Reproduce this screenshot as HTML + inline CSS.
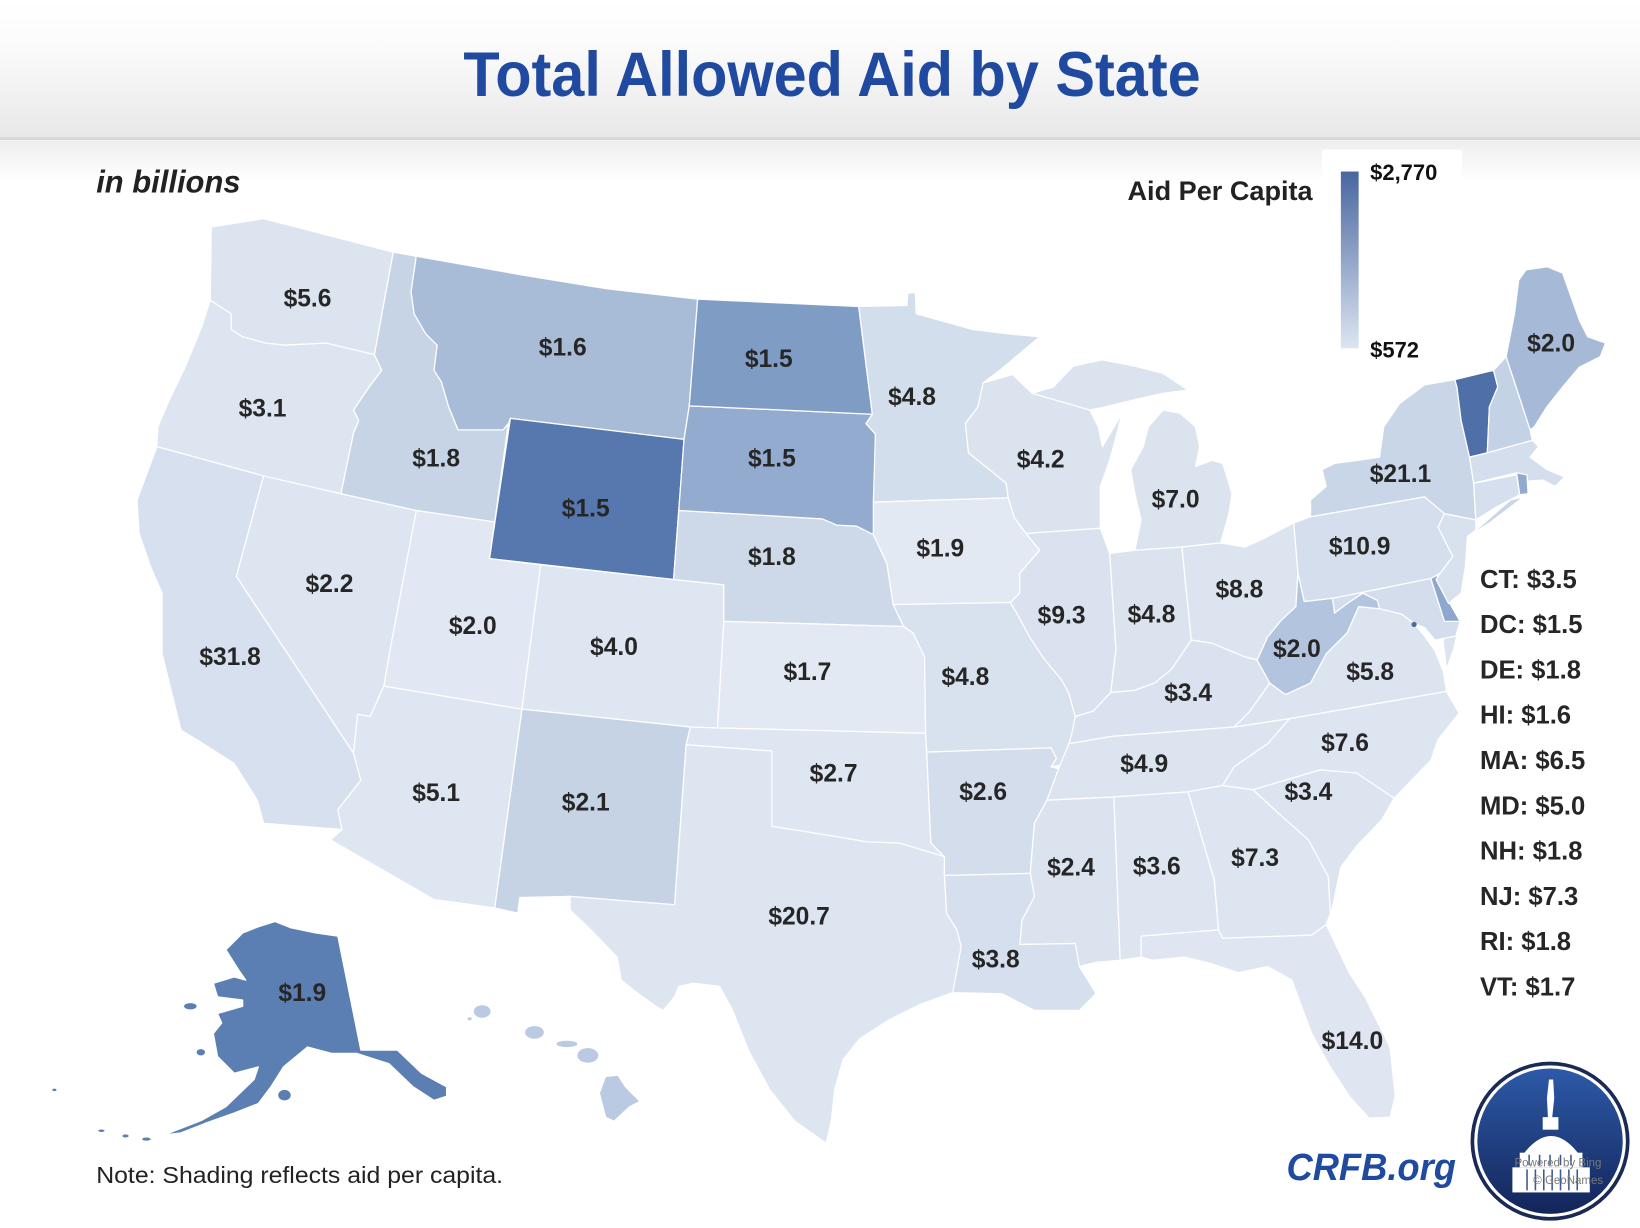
<!DOCTYPE html>
<html><head><meta charset="utf-8"><style>
html,body{margin:0;padding:0;background:#fff;}
svg{display:block;}
text{font-family:"Liberation Sans",Arial,sans-serif;}
</style></head><body>
<svg width="1640" height="1228" viewBox="0 0 1568 1174" preserveAspectRatio="none" xmlns="http://www.w3.org/2000/svg">
<defs>
<linearGradient id="hdr" x1="0" y1="0" x2="0" y2="1"><stop offset="0" stop-color="#ffffff"/><stop offset="0.35" stop-color="#fbfbfb"/><stop offset="1" stop-color="#e8e8e8"/></linearGradient>
<linearGradient id="sh" x1="0" y1="0" x2="0" y2="1"><stop offset="0" stop-color="#eeeeee"/><stop offset="1" stop-color="#ffffff"/></linearGradient>
<linearGradient id="leg" x1="0" y1="0" x2="0" y2="1"><stop offset="0" stop-color="#4866a0"/><stop offset="1" stop-color="#dde5f1"/></linearGradient>
<linearGradient id="logo" x1="0" y1="0" x2="0" y2="1"><stop offset="0" stop-color="#2d5aa8"/><stop offset="1" stop-color="#13255a"/></linearGradient>
</defs>
<rect x="0" y="0" width="1568" height="1174" fill="#fff"/>
<rect x="0" y="0" width="1568" height="131" fill="url(#hdr)"/>
<rect x="0" y="131" width="1568" height="3" fill="#d8d8d8"/>
<rect x="0" y="134" width="1568" height="40" fill="url(#sh)"/>
<text x="443" y="92" font-size="60" font-weight="bold" fill="#1f4aa0" textLength="705" lengthAdjust="spacingAndGlyphs">Total Allowed Aid by State</text>
<text x="92" y="184" font-size="30" font-weight="bold" font-style="italic" fill="#222" textLength="138" lengthAdjust="spacingAndGlyphs">in billions</text>

<rect x="1264" y="143" width="134" height="197" fill="#fff"/>
<rect x="1282" y="164" width="17" height="169" fill="url(#leg)"/>
<text x="1078" y="191" font-size="26" font-weight="bold" fill="#222" textLength="177" lengthAdjust="spacingAndGlyphs">Aid Per Capita</text>
<text x="1310" y="172" font-size="21" font-weight="bold" fill="#111">$2,770</text>
<text x="1310" y="342" font-size="21" font-weight="bold" fill="#111">$572</text>

<g stroke="#ffffff" stroke-width="1.2" stroke-linejoin="round">
<polygon fill="#dce4f0" points="202,217 252,209 376,241 358,339 312,328 272,330 254,328 232,322 221,315 221,300 201,287"/>
<polygon fill="#dde5f1" points="201,287 221,300 221,315 232,322 254,328 272,330 312,328 358,339 365,354 353,370 338,392 343,402 338,414 326,472 252,455 150,427 151,408 162,382 177,351 193,312"/>
<polygon fill="#d6e0ee" points="150,427 252,455 226,551 338,720 345,746 323,774 327,793 252,787 246,765 224,730 188,707 173,698 155,625 155,567 144,542 133,510 131,478"/>
<polygon fill="#dde5f0" points="252,455 326,472 398,488 373,621 367,656 354,685 342,683 338,720 226,551"/>
<polygon fill="#c6d4e6" points="376,241 398,245 393,279 396,300 407,319 418,330 415,354 422,365 429,389 438,411 481,411 486,405 473,499 398,488 326,472 338,414 343,402 338,392 353,370 365,354 358,339"/>
<polygon fill="#a8bbd7" points="398,245 500,263 580,276 667,286 659,388 654,420 488,400 486,405 481,411 438,411 429,389 422,365 415,354 418,330 407,319 396,300 393,279"/>
<polygon fill="#5678ae" points="488,400 654,420 644,554 468,534"/>
<polygon fill="#e1e8f3" points="398,488 473,499 468,534 517,540 499,678 367,656 373,621"/>
<polygon fill="#dee6f1" points="517,540 644,554 692,559 692,594 686,696 660,695 499,678"/>
<polygon fill="#cdd8e9" points="649,488 786,496 800,502 819,503 835,511 848,539 854,578 864,599 692,594 692,559 644,554"/>
<polygon fill="#93abcf" points="659,388 834,396 828,405 837,415 837,478 835,511 819,503 800,502 786,496 649,488 654,420"/>
<polygon fill="#7f9cc5" points="667,286 821,293 834,396 659,388"/>
<polygon fill="#e3e9f3" points="692,594 864,599 873,605 884,628 885,701 686,696"/>
<polygon fill="#dee6f1" points="660,695 686,696 885,701 886,719 890,806 903,819 880,812 860,806 830,805 800,800 770,795 738,790 738,718 656,712"/>
<polygon fill="#c6d3e5" points="499,678 660,695 656,712 645,865 545,857 497,858 495,873 473,868"/>
<polygon fill="#dee6f1" points="367,656 499,678 473,868 415,860 316,803 327,793 323,774 345,746 338,720 342,683 354,685"/>
<polygon fill="#dde5f0" points="656,712 738,718 738,790 770,795 800,800 830,805 860,806 880,812 903,819 903,837 905,873 915,889 919,905 911,949 880,960 850,975 822,993 806,1013 798,1042 795,1070 790,1093 760,1072 736,1042 716,1005 700,965 688,943 663,940 649,943 645,953 634,966 627,962 605,946 594,937 590,915 565,889 545,870 545,857 645,865"/>
<polygon fill="#d3deec" points="821,293 867,292 868,280 875,280 876,300 930,315 962,319 994,322 975,338 956,354 940,366 935,389 923,405 926,433 946,449 962,462 964,476 835,480 837,415 828,405 834,396"/>
<polygon fill="#e3e9f3" points="835,480 964,476 970,495 981,510 994,526 975,548 975,567 966,576 854,578 848,539 835,511"/>
<polygon fill="#d8e1ee" points="854,578 966,576 972,586 985,610 999,631 1015,650 1022,663 1028,685 1030,712 1025,730 1005,733 1010,725 1005,715 886,719 885,701 884,628 873,605 864,599"/>
<polygon fill="#dbe3ef" points="940,366 968,358 987,376 1042,392 1050,408 1054,427 1073,395 1065,425 1061,440 1052,465 1052,505 981,510 970,495 964,476 962,462 946,449 926,433 923,405 935,389"/>
<polygon fill="#dae2ef" points="981,510 1052,505 1061,529 1067,621 1062,662 1045,680 1028,685 1022,663 1015,650 999,631 985,610 972,586 966,576 975,567 975,548 994,526"/>
<polygon fill="#dbe3ef" points="1061,529 1085,526 1130,523 1139,612 1120,640 1104,653 1085,660 1062,662 1067,621"/>
<polygon fill="#dbe3ef" points="1085,526 1091,497 1085,472 1081,449 1093,427 1098,408 1112,392 1128,395 1143,408 1147,427 1143,446 1159,440 1169,443 1178,472 1175,491 1167,519 1130,523"/>
<polygon fill="#dbe3ef" points="987,376 1007,370 1026,350 1054,344 1085,350 1112,357 1136,373 1112,376 1085,382 1057,389 1042,392"/>
<polygon fill="#dce4f0" points="1130,523 1167,519 1190,523 1206,516 1229,504 1237,500 1241,548 1239,580 1225,593 1212,609 1202,631 1190,628 1159,615 1139,612"/>
<polygon fill="#dae2ef" points="1028,685 1045,680 1062,662 1085,660 1104,653 1120,640 1139,612 1159,615 1190,628 1202,631 1214,653 1195,680 1180,695 1063,704 1022,711 1025,700"/>
<polygon fill="#dce4f0" points="1022,711 1063,704 1180,695 1233,687 1212,711 1180,733 1169,751 1136,757 1065,762 1001,765 1012,735"/>
<polygon fill="#d3ddec" points="886,719 1005,715 1010,725 1005,733 1012,735 1001,765 989,787 985,835 903,837 903,819 890,806"/>
<polygon fill="#dbe3ef" points="1001,765 1065,762 1071,918 1048,920 1032,924 1028,902 975,903 977,880 989,857 985,835 989,787"/>
<polygon fill="#d5dfed" points="903,837 985,835 989,857 977,880 975,903 1028,902 1032,924 1048,950 1032,966 989,966 958,950 911,949 919,905 915,889 905,873"/>
<polygon fill="#dde5f0" points="1065,762 1136,757 1161,841 1165,889 1091,895 1091,915 1071,918"/>
<polygon fill="#dde5f1" points="1136,757 1169,751 1198,755 1223,778 1251,803 1270,838 1272,873 1268,884 1254,894 1169,897 1165,889 1161,841"/>
<polygon fill="#dfe6f1" points="1091,895 1165,889 1169,897 1254,894 1268,884 1290,930 1305,953 1329,1001 1334,1048 1329,1068 1309,1069 1290,1048 1270,1017 1254,988 1247,969 1235,937 1212,924 1184,930 1157,921 1133,915 1102,918 1091,915"/>
<polygon fill="#dce4f0" points="1198,755 1262,736 1297,739 1333,763 1321,784 1297,809 1282,829 1274,867 1272,873 1270,838 1251,803 1223,778"/>
<polygon fill="#dde5f1" points="1233,687 1383,661 1395,682 1375,707 1368,727 1333,763 1297,739 1262,736 1198,755 1169,751 1180,733 1212,711"/>
<polygon fill="#dce4f0" points="1180,695 1195,680 1214,653 1229,664 1253,653 1268,625 1288,605 1299,580 1319,582 1340,587 1352,596 1362,608 1372,622 1380,642 1383,661 1233,687"/>
<polygon fill="#dce4f0" points="1381,594 1396,594 1390,620 1383,640 1380,615"/>
<polygon fill="#b3c4de" points="1241,548 1247,575 1274,572 1276,586 1288,577 1303,567 1317,574 1319,582 1299,580 1288,605 1268,625 1253,653 1229,664 1214,653 1202,631 1212,609 1225,593 1239,580"/>
<polygon fill="#d3ddec" points="1274,572 1368,553 1381,594 1396,594 1392,608 1372,612 1362,600 1352,596 1340,587 1319,582 1317,574 1303,567 1288,577 1276,586"/>
<polygon fill="#8ea7ce" points="1368,553 1374,550 1380,566 1396,594 1381,594"/>
<polygon fill="#d4deec" points="1237,500 1253,494 1362,475 1381,491 1375,504 1389,532 1377,548 1368,553 1274,572 1247,575 1241,548"/>
<polygon fill="#d8e1ee" points="1381,491 1411,497 1411,507 1403,513 1401,542 1397,567 1385,577 1373,554 1377,548 1389,532 1375,504"/>
<polygon fill="#c9d6e8" points="1253,494 1253,478 1268,465 1264,449 1276,443 1299,440 1319,437 1323,408 1338,386 1362,368 1391,363 1393,370 1397,402 1405,437 1409,462 1411,497 1381,491 1362,475"/>
<polygon fill="#c9d6e8" points="1411,507 1444,478 1457,475 1424,500 1403,513"/>
<polygon fill="#4e6fa7" points="1391,363 1428,354 1432,370 1424,389 1422,433 1405,437 1397,402 1393,370"/>
<polygon fill="#c4d2e6" points="1428,354 1440,341 1463,411 1465,421 1422,433 1424,389 1432,370"/>
<polygon fill="#a6bad7" points="1440,341 1448,300 1452,268 1459,258 1479,255 1494,261 1510,306 1518,322 1535,328 1530,341 1510,351 1494,370 1479,389 1467,408 1463,411"/>
<polygon fill="#d4deec" points="1405,437 1422,433 1465,421 1471,427 1463,437 1479,449 1496,456 1487,465 1475,459 1459,460 1450,452 1409,462"/>
<polygon fill="#d6dfed" points="1409,462 1450,454 1453,473 1432,484 1411,497"/>
<polygon fill="#92aacf" points="1450,452 1460,454 1461,472 1453,473"/>
<polygon fill="#5b7fb3" points="216,908 232,892 247,886 263,881 278,887 302,892 323,895 345,1004 357,1004 380,1004 403,1026 427,1039 427,1048 415,1052 395,1039 372,1017 341,1007 317,1007 294,1001 271,1020 259,1039 247,1055 224,1064 196,1074 173,1083 157,1085 193,1071 216,1058 243,1032 247,1020 224,1026 208,1010 204,988 212,978 208,969 232,962 232,956 208,953 204,940 224,934 235,937 228,927"/>
<polygon fill="#b9cae2" points="579,1029 591,1028 598,1039 612,1053 602,1058 587,1072 579,1068 573,1045"/>
</g>
<circle cx="1352" cy="597" r="2.5" fill="#4a6aa2"/>
<g fill="#5b7fb3">
<ellipse cx="182" cy="962" rx="6" ry="3"/>
<ellipse cx="192" cy="1006" rx="4" ry="3"/>
<ellipse cx="272" cy="1047" rx="6" ry="5"/>
<ellipse cx="140" cy="1089" rx="4" ry="1.5"/>
<ellipse cx="120" cy="1086" rx="3" ry="1.5"/>
<ellipse cx="97" cy="1081" rx="3" ry="1.2"/>
<ellipse cx="52" cy="1042" rx="2" ry="1.2"/>
</g>
<g fill="#b9cae2">
<ellipse cx="461" cy="967" rx="8" ry="6"/>
<ellipse cx="449" cy="974" rx="2" ry="1.5"/>
<ellipse cx="511" cy="987" rx="9" ry="6"/>
<ellipse cx="542" cy="998" rx="10" ry="3"/>
<ellipse cx="562" cy="1009" rx="10" ry="7"/>
</g>

<g font-size="23.5" font-weight="bold" fill="#262626" text-anchor="middle">
<text x="294" y="293">$5.6</text>
<text x="251" y="398">$3.1</text>
<text x="220" y="636">$31.8</text>
<text x="315" y="566">$2.2</text>
<text x="417" y="446">$1.8</text>
<text x="538" y="340">$1.6</text>
<text x="560" y="494">$1.5</text>
<text x="452" y="606">$2.0</text>
<text x="587" y="626">$4.0</text>
<text x="417" y="766">$5.1</text>
<text x="560" y="775">$2.1</text>
<text x="735" y="351">$1.5</text>
<text x="738" y="446">$1.5</text>
<text x="738" y="540">$1.8</text>
<text x="772" y="650">$1.7</text>
<text x="797" y="747">$2.7</text>
<text x="764" y="884">$20.7</text>
<text x="872" y="387">$4.8</text>
<text x="899" y="532">$1.9</text>
<text x="923" y="655">$4.8</text>
<text x="940" y="765">$2.6</text>
<text x="952" y="925">$3.8</text>
<text x="995" y="447">$4.2</text>
<text x="1015" y="596">$9.3</text>
<text x="1124" y="485">$7.0</text>
<text x="1101" y="595">$4.8</text>
<text x="1185" y="571">$8.8</text>
<text x="1136" y="670">$3.4</text>
<text x="1094" y="738">$4.9</text>
<text x="1024" y="837">$2.4</text>
<text x="1106" y="836">$3.6</text>
<text x="1200" y="828">$7.3</text>
<text x="1293" y="1003">$14.0</text>
<text x="1251" y="765">$3.4</text>
<text x="1286" y="718">$7.6</text>
<text x="1310" y="650">$5.8</text>
<text x="1240" y="628">$2.0</text>
<text x="1300" y="530">$10.9</text>
<text x="1339" y="461">$21.1</text>
<text x="1483" y="336">$2.0</text>
<text x="289" y="957">$1.9</text>
</g>

<g font-size="24.5" font-weight="bold" fill="#262626">
<text x="1415" y="562">CT: $3.5</text>
<text x="1415" y="605.3">DC: $1.5</text>
<text x="1415" y="648.6">DE: $1.8</text>
<text x="1415" y="691.9">HI: $1.6</text>
<text x="1415" y="735.2">MA: $6.5</text>
<text x="1415" y="778.5">MD: $5.0</text>
<text x="1415" y="821.8">NH: $1.8</text>
<text x="1415" y="865.1">NJ: $7.3</text>
<text x="1415" y="908.4">RI: $1.8</text>
<text x="1415" y="951.7">VT: $1.7</text>
</g>

<text x="92" y="1131" font-size="22" fill="#222" textLength="389" lengthAdjust="spacingAndGlyphs">Note: Shading reflects aid per capita.</text>
<text x="1230" y="1128" font-size="36" font-weight="bold" font-style="italic" fill="#1f4aa0" textLength="162" lengthAdjust="spacingAndGlyphs">CRFB.org</text>

<circle cx="1482" cy="1091" r="76" fill="#1a2a55"/>
<circle cx="1482" cy="1091" r="72.5" fill="#ffffff"/>
<circle cx="1482" cy="1091" r="69.5" fill="url(#logo)"/>
<g fill="#ffffff">
<path d="M1481,1032 L1485,1032 L1486,1050 L1484,1069 L1480,1069 L1479,1050 Z"/>
<rect x="1475" y="1068" width="15" height="12"/>
<path d="M1456,1104 Q1483,1068 1510,1104 Z"/>
<rect x="1453" y="1102" width="60" height="14"/>
<rect x="1446" y="1116" width="74" height="24"/>
</g>
<g stroke="#3a5a90" stroke-width="1.5">
<line x1="1460" y1="1118" x2="1460" y2="1138"/><line x1="1468" y1="1118" x2="1468" y2="1138"/>
<line x1="1476" y1="1118" x2="1476" y2="1138"/><line x1="1484" y1="1118" x2="1484" y2="1138"/>
<line x1="1492" y1="1118" x2="1492" y2="1138"/><line x1="1500" y1="1118" x2="1500" y2="1138"/>
<line x1="1508" y1="1118" x2="1508" y2="1138"/>
<line x1="1462" y1="1104" x2="1462" y2="1114"/><line x1="1472" y1="1104" x2="1472" y2="1114"/>
<line x1="1482" y1="1104" x2="1482" y2="1114"/><line x1="1492" y1="1104" x2="1492" y2="1114"/>
<line x1="1502" y1="1104" x2="1502" y2="1114"/>
</g>
<text x="1448" y="1115" font-size="11" fill="#7a7a7a">Powered by Bing</text>
<text x="1466" y="1132" font-size="11" fill="#7a7a7a">© GeoNames</text>
</svg>
</body></html>
